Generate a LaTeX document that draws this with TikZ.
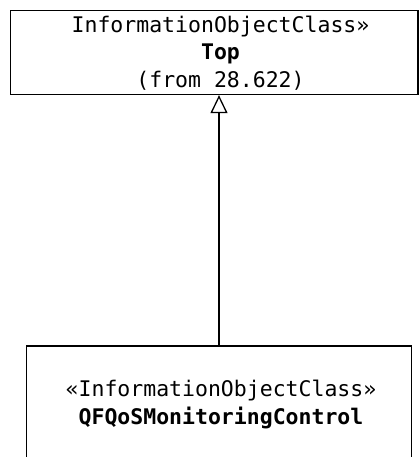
\documentclass[tikz,border=0pt]{standalone}
\usepackage{fontspec}
\setmonofont{DejaVu Sans Mono}
\usetikzlibrary{arrows.meta}
\begin{document}
\begin{tikzpicture}[x=1pt,y=1pt,
  box/.style={draw=black, line width=1.3pt, fill=white, inner sep=0pt},
  lbl/.style={anchor=base, inner sep=0pt, font=\ttfamily\fontsize{21.5}{24}\selectfont},
  gen/.style={line width=1.3pt, -{Triangle[open, length=18pt, width=17pt, line width=1.3pt]}}]
\useasboundingbox (0,0) rectangle (419,457);
\clip (0,0) rectangle (419,457);
% top box: x 10.5..418, y 10.5..94.5 (from top)
\node[box, minimum width=407.5pt, minimum height=84pt] (top) at (214.25,404.5) {};
% bottom box: x 26.7..411.7, top y 346, runs off the bottom
\node[box, minimum width=385pt, minimum height=160pt] (bot) at (219.2,31) {};
\node[lbl] (t1) at (220.5,424) {InformationObjectClass»};
\node[lbl, font=\ttfamily\bfseries\fontsize{21.5}{24}\selectfont] (t2) at (220.5,397) {Top};
\node[lbl] (t3) at (220.5,369) {(from 28.622)};
\node[lbl] (b1) at (221,60) {«InformationObjectClass»};
\node[lbl, font=\ttfamily\bfseries\fontsize{21.5}{24}\selectfont] (b2) at (221,32) {QFQoSMonitoringControl};
\draw[gen] (bot.north -| 219,0) -- (top.south -| 219,0);
\end{tikzpicture}
\end{document}
